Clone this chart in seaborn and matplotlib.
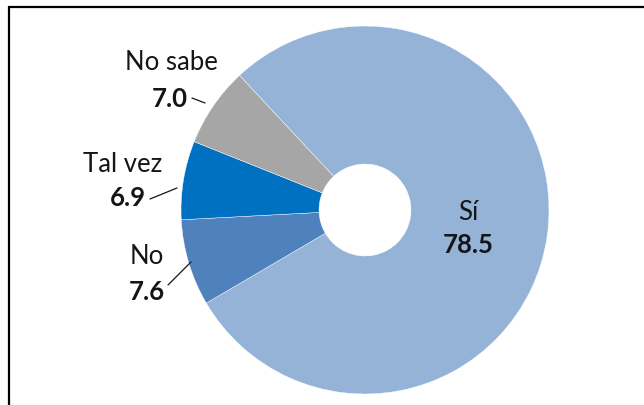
import matplotlib
matplotlib.use("Agg")
import matplotlib.pyplot as plt
from matplotlib.lines import Line2D
import seaborn as sns

# Survey answers and their shares (%)
categories = ["Sí", "No", "Tal vez", "No sabe"]
values = [78.5, 7.6, 6.9, 7.0]
colors = ["#95B3D7", "#4F81BD", "#0070C0", "#A6A6A6"]

sns.set_theme(style="white")
plt.rcParams["font.family"] = ["Lato", "DejaVu Sans"]

W, H = 644, 405
fig = plt.figure(figsize=(W / 100, H / 100), dpi=100)
fig.patch.set_facecolor("white")

# Axes covering the whole canvas in pixel units (y pointing up)
ax = fig.add_axes([0, 0, 1, 1])

cx, cy = 365, H - 210
radius = 184
hole = 46

ax.pie(
    values,
    colors=colors,
    startangle=133,
    counterclock=False,
    center=(cx, cy),
    radius=radius,
    wedgeprops=dict(width=radius - hole, edgecolor="white", linewidth=0.3),
    frame=True,
)
ax.set_xlim(0, W)
ax.set_ylim(0, H)
ax.set_aspect("auto")
ax.axis("off")

txt = "#151515"
fs = 18.5

# Inside label for the large slice
ax.text(468, H - 212, categories[0], ha="center", va="center", fontsize=fs, color=txt)
ax.text(468, H - 245, f"{values[0]:.1f}", ha="center", va="center", fontsize=fs,
        fontweight="bold", color=txt)

# Outside labels with leader lines for the small slices
outside = {
    "No": dict(name=(147, 257), val=(147, 292), line=[(168, 285), (191, 262)]),
    "Tal vez": dict(name=(123, 165), val=(128, 198), line=[(150, 199), (177, 188)]),
    "No sabe": dict(name=(171, 62), val=(170, 99), line=[(192, 98), (205, 103)]),
}
for cat, val in zip(categories[1:], values[1:]):
    spec = outside[cat]
    ax.text(spec["name"][0], H - spec["name"][1], cat, ha="center", va="center",
            fontsize=fs, color=txt)
    ax.text(spec["val"][0], H - spec["val"][1], f"{val:.1f}", ha="center", va="center",
            fontsize=fs, fontweight="bold", color=txt)
    (x0, y0), (x1, y1) = spec["line"]
    ax.plot([x0, x1], [H - y0, H - y1], color=txt, linewidth=0.9)

# Frame lines along the top and left edges
fig.add_artist(Line2D([9 / W, 9 / W], [0, 1 - 7 / H], transform=fig.transFigure,
                      color="black", linewidth=1.6))
fig.add_artist(Line2D([9 / W, 1], [1 - 7 / H, 1 - 7 / H], transform=fig.transFigure,
                      color="black", linewidth=1.6))

fig.savefig("out.png", dpi=100, facecolor="white")
